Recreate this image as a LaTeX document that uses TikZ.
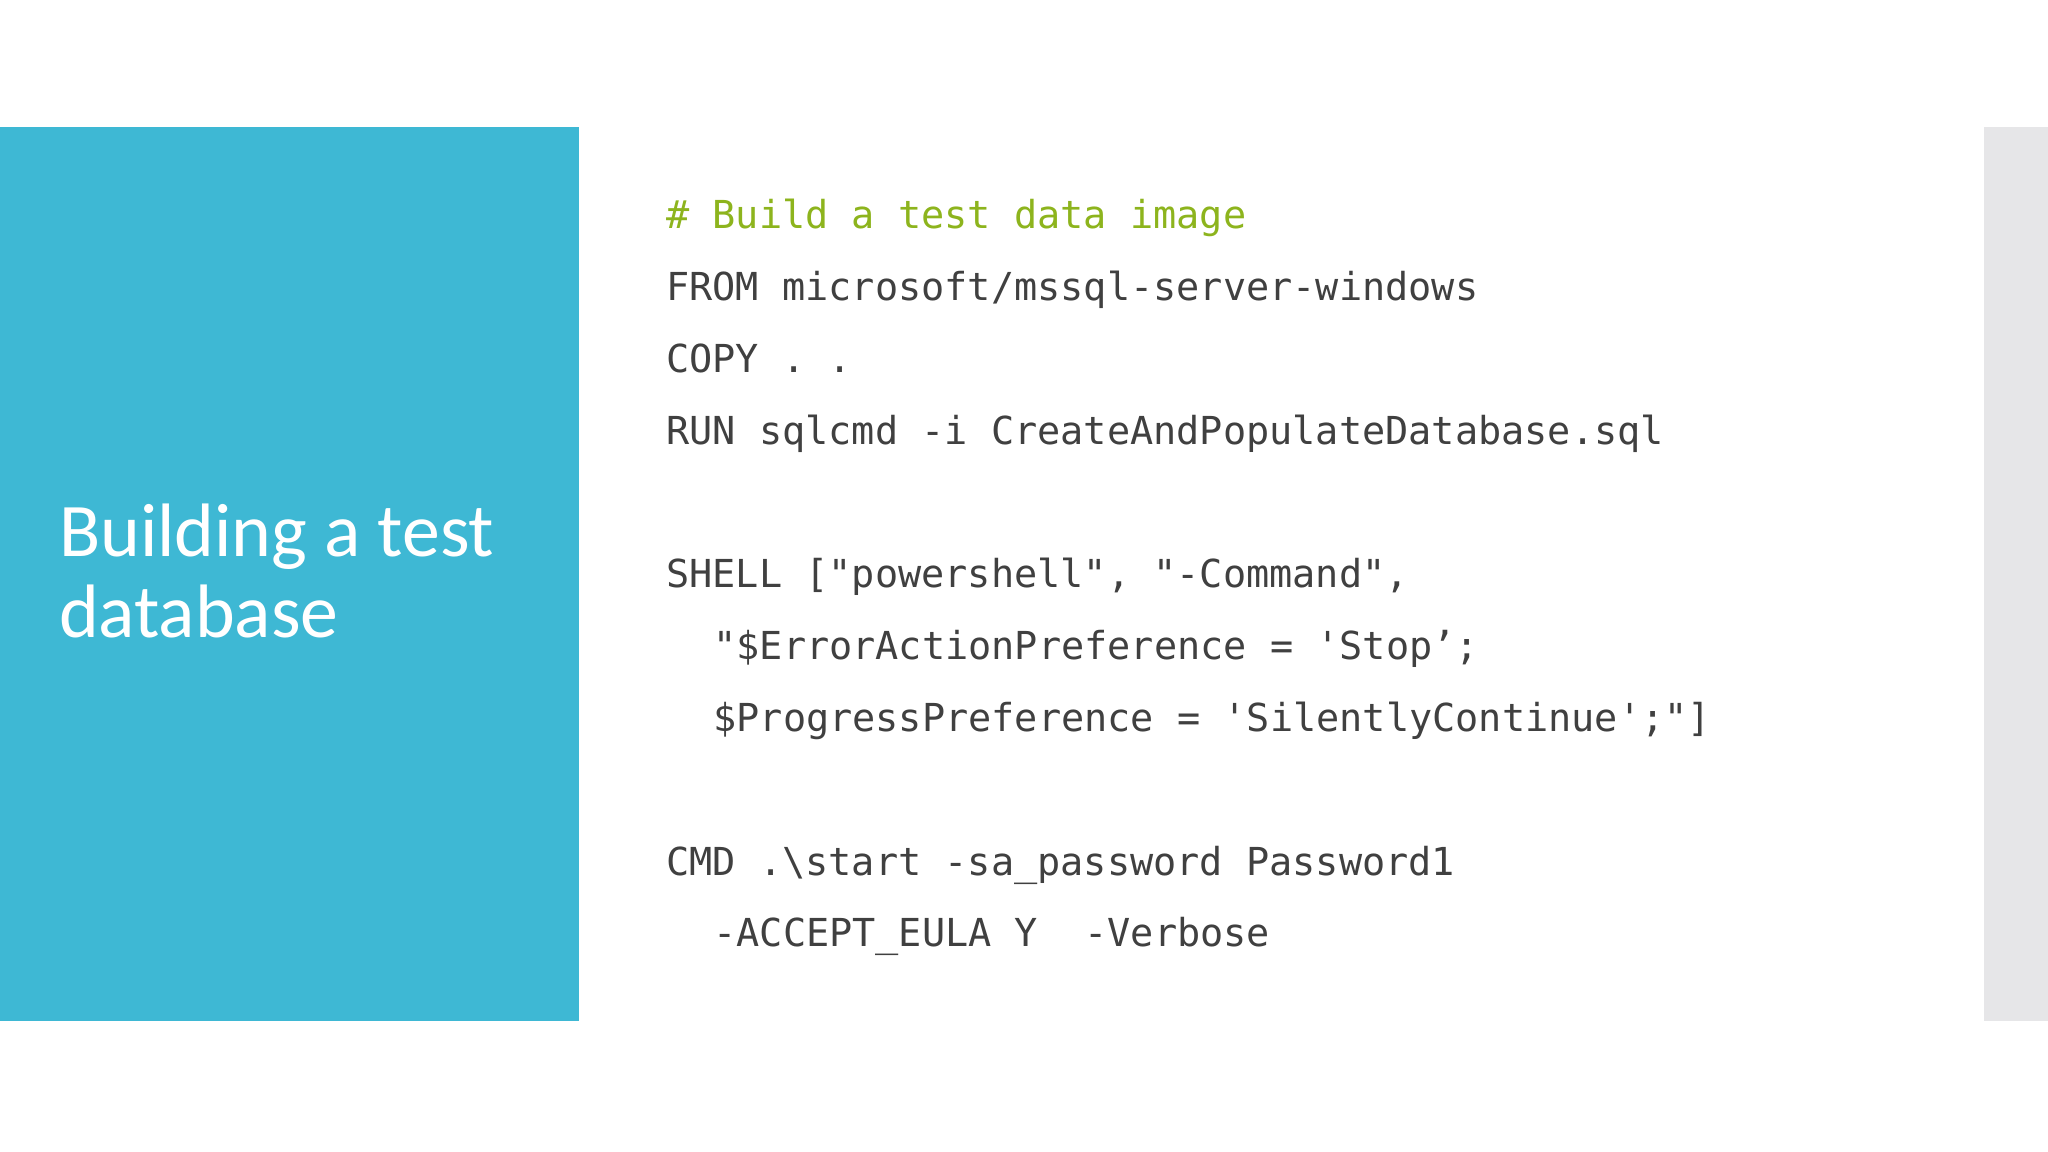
\documentclass[tikz,border=0pt]{standalone}
\usepackage{fontspec}
\setmainfont{Carlito}
\newfontfamily\codefont{DejaVu Sans Mono}[Scale=1]
\definecolor{panelblue}{HTML}{3EB8D4}
\definecolor{panelgray}{HTML}{E6E6E8}
\definecolor{codegray}{HTML}{404040}
\definecolor{codegreen}{HTML}{8DB41D}
\begin{document}
\begin{tikzpicture}[x=1pt,y=-1pt,
  code/.style={anchor=base west,inner sep=0pt,text=codegray,font=\codefont\fontsize{29.5}{30}\selectfont},
  title/.style={anchor=base west,inner sep=0pt,text=white,font=\fontsize{58}{60}\selectfont}]
\useasboundingbox (0,0) rectangle (1568,882);
\fill[white] (0,0) rectangle (1568,882);
\fill[panelblue] (0,97) rectangle (443,782);
\fill[panelgray] (1519,97) rectangle (1568,782);
\node[title] (t1) at (45,426) {Building a test};
\node[title] (t2) at (45,488) {database};
\node[code,text=codegreen] (c1) at (510,175) {\#~Build a test data image};
\node[code] (c2) at (510,230) {FROM microsoft/mssql-server-windows};
\node[code] (c3) at (510,285) {COPY . .};
\node[code] (c4) at (510,340) {RUN sqlcmd -i CreateAndPopulateDatabase.sql};
\node[code] (c5) at (510,450) {SHELL ["powershell", "-Command",};
\node[code] (c6) at (546,505) {"\$ErrorActionPreference = 'Stop’;};
\node[code] (c7) at (546,560) {\$ProgressPreference = 'SilentlyContinue';"]};
\node[code] (c8) at (510,670) {CMD .\textbackslash start -sa\_password Password1};
\node[code] (c9) at (546,725) {-ACCEPT\_EULA Y\ \ -Verbose};
\end{tikzpicture}
\end{document}
